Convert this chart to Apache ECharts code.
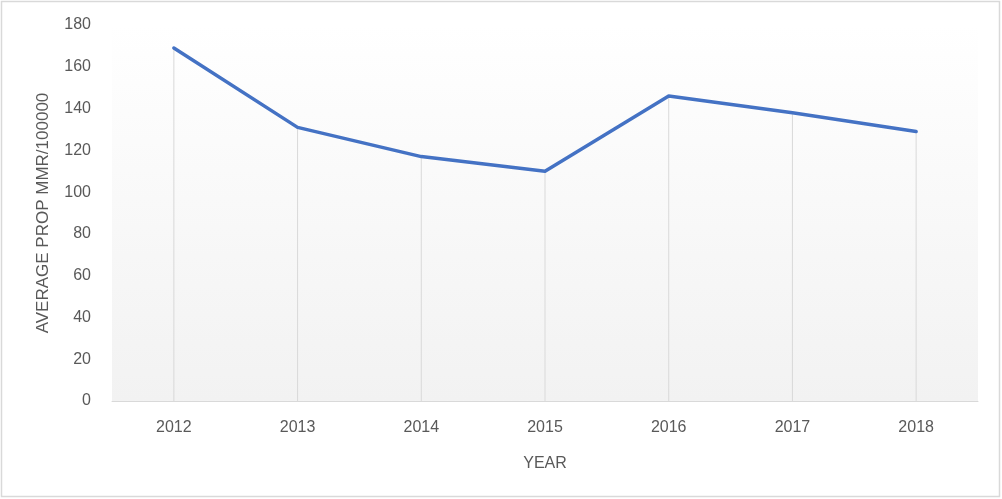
<!DOCTYPE html>
<html>
<head>
<meta charset="utf-8">
<script src="https://cdn.jsdelivr.net/npm/echarts@6/dist/echarts.min.js"></script>
<style>
html,body{margin:0;padding:0;background:#fff;}
#chart{width:1002px;height:499px;}
</style>
</head>
<body>
<div id="chart"></div>
<script>
const years = ['2012','2013','2014','2015','2016','2017','2018'];
const mmrValues = [169, 131, 117, 110, 146, 138, 129];
const yTicks = {min: 0, max: 180, interval: 20};

const chart = echarts.init(document.getElementById('chart'), null, {renderer: 'canvas'});
const labelFont = {color: '#595959', fontSize: 16, fontFamily: 'Liberation Sans, Arial, sans-serif'};
chart.setOption({
  animation: false,
  backgroundColor: '#fff',
  grid: {
    left: 112, right: 24, top: 25, bottom: 98,
    show: true, borderWidth: 0,
    backgroundColor: new echarts.graphic.LinearGradient(0, 0, 0, 1, [
      {offset: 0, color: '#ffffff'},
      {offset: 1, color: '#f2f2f2'}
    ])
  },
  graphic: [{
    type: 'rect', silent: true, z: 100,
    shape: {x: 1.5, y: 1.5, width: 998, height: 495},
    style: {fill: 'none', stroke: '#d9d9d9', lineWidth: 1.5}
  }],
  xAxis: {
    type: 'category',
    data: years,
    boundaryGap: true,
    name: 'YEAR',
    nameLocation: 'middle',
    nameGap: 55,
    nameTextStyle: labelFont,
    axisLine: {lineStyle: {color: '#d9d9d9', width: 1}},
    axisTick: {show: false},
    axisLabel: Object.assign({margin: 19}, labelFont),
    splitLine: {show: false}
  },
  yAxis: {
    type: 'value',
    min: yTicks.min, max: yTicks.max, interval: yTicks.interval,
    name: 'AVERAGE PROP MMR/100000',
    nameLocation: 'middle',
    nameGap: 60,
    nameRotate: 90,
    nameTextStyle: Object.assign({}, labelFont, {fontSize: 17}),
    axisLine: {show: false},
    axisTick: {show: false},
    axisLabel: Object.assign({margin: 21}, labelFont),
    splitLine: {show: false}
  },
  series: [
    {
      type: 'bar',
      data: mmrValues,
      barWidth: 1,
      itemStyle: {color: '#d9d9d9'},
      silent: true,
      z: 1
    },
    {
      type: 'line',
      data: mmrValues,
      showSymbol: false,
      symbol: 'none',
      lineStyle: {color: '#4472C4', width: 3.5, cap: 'round', join: 'round'},
      z: 5
    }
  ]
});
</script>
</body>
</html>
